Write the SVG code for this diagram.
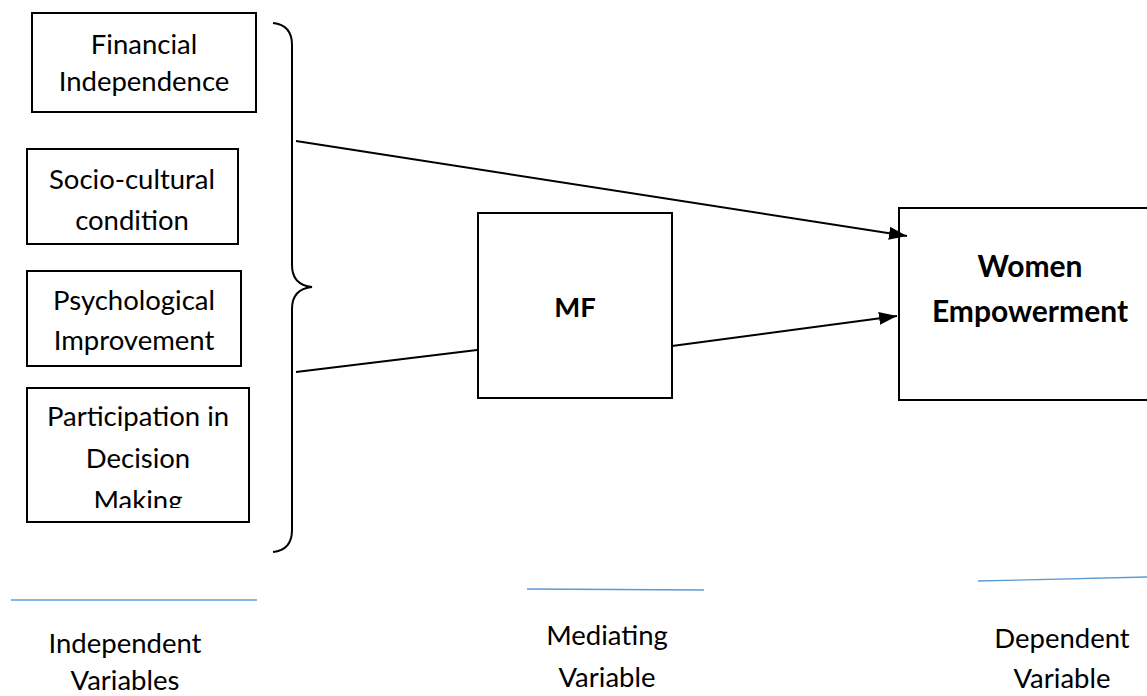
<svg xmlns="http://www.w3.org/2000/svg" width="1147" height="696" viewBox="0 0 1147 696">
<style>
.box{fill:#fff;stroke:#000;stroke-width:2}
.t{font-family:Lato,"Liberation Sans",sans-serif;font-size:27.5px;fill:#000;text-anchor:middle}
.b{font-weight:bold}
.conn{stroke:#000;fill:none;stroke-width:2}
.ul{stroke:#5b9bd5;stroke-width:1.3;fill:none}
</style>
<defs>
<marker id="ah" markerUnits="userSpaceOnUse" markerWidth="19" markerHeight="14" refX="18" refY="6.5" orient="auto">
<path d="M0,0 L18,6.5 L0,13 Z" fill="#000"/>
</marker>
<clipPath id="clip4"><rect x="20" y="380" width="240" height="128"/></clipPath>
</defs>
<g id="n-financial">
<rect class="box" x="32" y="13" width="224" height="99"/>
<text class="t" x="144" y="54">Financial</text>
<text class="t" x="144" y="91">Independence</text>
</g>
<g id="n-socio">
<rect class="box" x="27" y="149" width="211" height="95"/>
<text class="t" x="132" y="189">Socio-cultural</text>
<text class="t" x="132" y="230">condition</text>
</g>
<g id="n-psych">
<rect class="box" x="27" y="271" width="214" height="95"/>
<text class="t" x="134" y="310">Psychological</text>
<text class="t" x="134" y="350">Improvement</text>
</g>
<g id="n-participation">
<rect class="box" x="27" y="388" width="222" height="134"/>
<g clip-path="url(#clip4)">
<text class="t" x="138" y="426">Participation in</text>
<text class="t" x="138" y="468">Decision</text>
<text class="t" x="138" y="510">Making</text>
</g>
</g>
<g id="n-mf">
<rect class="box" x="478" y="213" width="194" height="185"/>
<text class="t b" x="575" y="317">MF</text>
</g>
<g id="n-women">
<rect class="box" x="899" y="208" width="260" height="192"/>
<text class="t b" x="1030" y="277" style="font-size:30px">Women</text>
<text class="t b" x="1030" y="322" style="font-size:30px">Empowerment</text>
</g>
<g id="connectors">
<path class="conn" d="M273,23 Q292,25 292,45 L292,265 Q292,285 312,287 Q292,289 292,309 L292,530 Q292,550 273,552"/>
<line class="conn" x1="296" y1="141" x2="907" y2="236" marker-end="url(#ah)"/>
<line class="conn" x1="296" y1="372" x2="477" y2="350" stroke-width="1.6"/>
<line class="conn" x1="672" y1="346" x2="897" y2="316" stroke-width="2.5" marker-end="url(#ah)"/>
</g>
<g id="labels">
<line class="ul" x1="11" y1="600" x2="257" y2="600"/>
<line class="ul" x1="527" y1="589" x2="704" y2="590"/>
<line class="ul" x1="978" y1="581" x2="1147" y2="577"/>
<text class="t" x="125" y="653">Independent</text>
<text class="t" x="125" y="690">Variables</text>
<text class="t" x="607" y="645">Mediating</text>
<text class="t" x="607" y="687">Variable</text>
<text class="t" x="1062" y="648">Dependent</text>
<text class="t" x="1062" y="688">Variable</text>
</g>
</svg>
